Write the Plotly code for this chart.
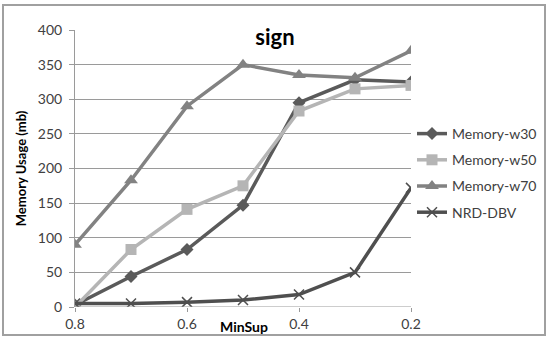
import plotly.graph_objects as go

minsup = [0.8, 0.7, 0.6, 0.5, 0.4, 0.3, 0.2]
w30 = [3, 44, 83, 147, 295, 328, 325]
w50 = [0, 83, 141, 175, 283, 315, 320]
w70 = [90, 183, 290, 350, 335, 331, 370]
nrd = [5, 5, 7, 10, 18, 50, 172]
tick_vals = [0.8, 0.6, 0.4, 0.2]
tick_text = ["0.8", "0.6", "0.4", "0.2"]

FONT = "Lato, 'Open Sans', sans-serif"
fig = go.Figure()
fig.add_trace(go.Scatter(x=minsup, y=w30, name="Memory-w30", mode="lines+markers", legendgroup="a",
                         line=dict(color="#5a5a5a", width=3.5),
                         marker=dict(symbol="diamond", size=10, color="#5a5a5a")))
fig.add_trace(go.Scatter(x=minsup, y=w50, name="Memory-w50", mode="lines+markers", legendgroup="b",
                         line=dict(color="#b5b5b5", width=3.5),
                         marker=dict(symbol="square", size=11, color="#b5b5b5")))
fig.add_trace(go.Scatter(x=minsup, y=w70, name="Memory-w70", mode="lines+markers", legendgroup="c",
                         line=dict(color="#828282", width=3.5),
                         marker=dict(symbol="triangle-up", size=12, color="#828282")))
fig.add_trace(go.Scatter(x=minsup, y=nrd, name="NRD-DBV", mode="lines+markers", legendgroup="d",
                         line=dict(color="#4f4f4f", width=3.5),
                         marker=dict(symbol="x-thin-open", size=10,
                                     line=dict(color="#4f4f4f", width=1.5))))

fig.update_layout(
    width=550, height=342,
    margin=dict(l=75, r=139, t=30, b=35, autoexpand=False),
    paper_bgcolor="white", plot_bgcolor="white",
    font=dict(family=FONT, size=14, color="#404040"),
    title=dict(text="<b>sign</b>", x=275/550, xanchor="center", y=1-37/342, yanchor="middle",
               font=dict(family=FONT, size=22, color="#000000")),
    showlegend=True,
    legend=dict(x=(412-75)/336, xanchor="left", y=(307-118)/277, yanchor="top",
                font=dict(family=FONT, size=14, color="#404040"),
                bgcolor="rgba(0,0,0,0)", tracegroupgap=5, itemwidth=30),
    xaxis=dict(range=[0.8, 0.2], tickvals=tick_vals, ticktext=tick_text,
               showgrid=False, zeroline=False, showline=False,
               ticks="outside", ticklen=4, tickcolor="#999999",
               tickfont=dict(family=FONT, size=14, color="#404040")),
    yaxis=dict(range=[0, 400], dtick=50, showgrid=True, gridcolor="#9a9a9a", gridwidth=1,
               zeroline=False, showline=True, linecolor="#9a9a9a", linewidth=1,
               ticks="outside", ticklen=5, tickcolor="#9a9a9a", ticklabelstandoff=4,
               tickfont=dict(family=FONT, size=14, color="#404040"),
               title=dict(text="<b>Memory Usage (mb)</b>", standoff=8,
                          font=dict(family=FONT, size=13, color="#000000"))),
    shapes=[dict(type="rect", xref="paper", yref="paper", x0=-72/336, x1=(545-75)/336,
                 y0=-(335-307)/277, y1=(307-5)/277, line=dict(color="#a0a0a0", width=2),
                 fillcolor="rgba(0,0,0,0)"),
            dict(type="line", xref="paper", yref="y", x0=0, x1=1, y0=0, y1=0,
                 line=dict(color="#9a9a9a", width=1))],
    annotations=[dict(text="<b>MinSup</b>", xref="paper", yref="paper",
                      x=(244-75)/336, y=-(326-307)/277, xanchor="center", yanchor="middle",
                      showarrow=False, font=dict(family=FONT, size=14, color="#000000"))],
)
fig.write_html("out.html", config={"displayModeBar": False},
               post_script="document.body.style.margin='0';document.body.style.overflow='hidden';")
